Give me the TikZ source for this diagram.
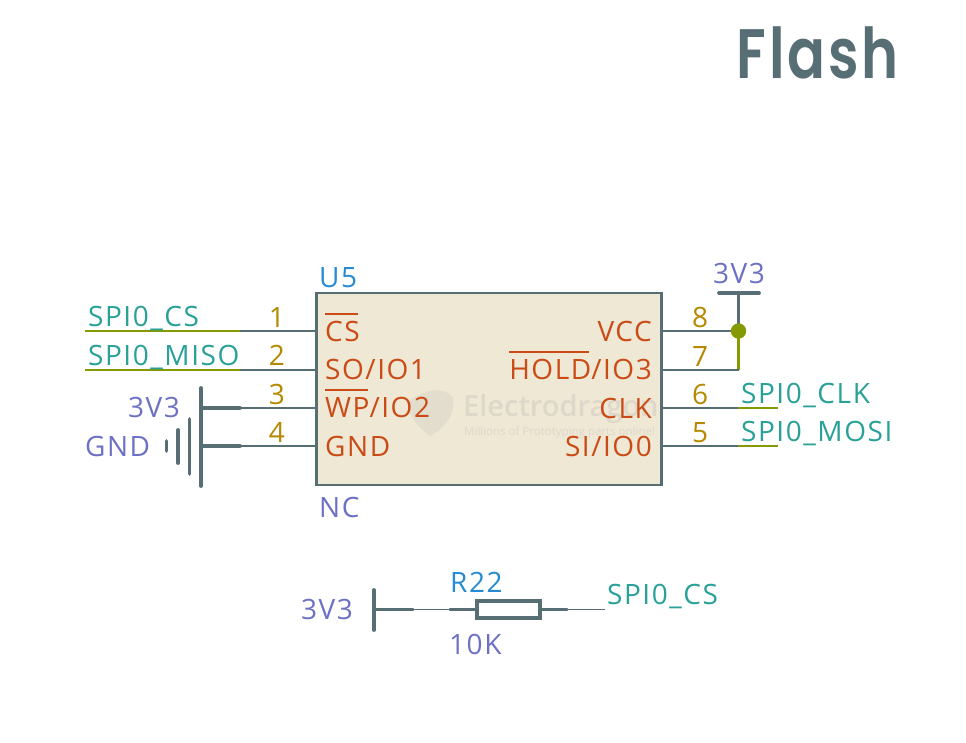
\documentclass[tikz,border=0pt]{standalone}
\usepackage{fontspec}
\setmainfont{Open Sans}
\newfontfamily\labelfont{Open Sans}[LetterSpace=5.5]
\newfontfamily\titlefont{Poppins}[UprightFont=* SemiBold,LetterSpace=4,FakeStretch=0.8]
\newfontfamily\markfont{Open Sans}[UprightFont=* Semibold]
\definecolor{slateline}{RGB}{88,110,117}
\definecolor{wiregreen}{RGB}{133,153,0}
\definecolor{nettext}{RGB}{42,161,152}
\definecolor{pinnum}{RGB}{181,137,0}
\definecolor{pinname}{RGB}{203,75,22}
\definecolor{reftext}{RGB}{38,139,210}
\definecolor{valtext}{RGB}{108,113,196}
\definecolor{chipfill}{RGB}{238,232,213}
\definecolor{markgray}{RGB}{221,216,202}
\newcommand{\barred}[1]{\setbox0\hbox{#1}\rlap{\rule[26pt]{\dimexpr\wd0-2pt\relax}{1.8pt}}\box0}
\usetikzlibrary{positioning}

\begin{document}
\begin{tikzpicture}[
      x=1pt, y=-1pt,
      font=\labelfont\fontsize{28}{30}\selectfont,
      chip/.style={rectangle, draw=slateline, line width=2.4pt, fill=chipfill, minimum width=345pt, minimum height=192pt, inner sep=0pt},
      net/.style={anchor=base west, text=nettext, inner sep=0pt},
      num/.style={anchor=base, text=pinnum, inner sep=0pt},
      namel/.style={anchor=base west, text=pinname, inner sep=0pt},
      namer/.style={anchor=base east, text=pinname, inner sep=0pt},
      ref/.style={anchor=base west, text=reftext, inner sep=0pt},
      val/.style={anchor=base west, text=valtext, inner sep=0pt},
      pin/.style={slateline, line width=1.8pt},
      stub/.style={slateline, line width=3.6pt, line cap=round},
      bar/.style={slateline, line width=3.8pt, line cap=round},
      wire/.style={wiregreen, line width=2.4pt},
      resbox/.style={rectangle, draw=slateline, line width=3.4pt, fill=white, minimum width=63pt, minimum height=17pt, inner sep=0pt},
    ]
    \useasboundingbox (0,0) rectangle (966,742);

    \node[anchor=base east, inner sep=0pt, text=slateline, font=\titlefont\fontsize{70}{72}\selectfont] (title) at (899,78) {Flash};

    \node[chip] (u5) at (489,389) {};

    % watermark
    \fill[markgray!70!chipfill] (430,436) .. controls (415,425) and (408,412) .. (408,402) .. controls (425,388) and (445,386) .. (453,398) .. controls (456,412) and (446,428) .. (430,436) -- cycle;
    \node[anchor=base west, inner sep=0pt, text=markgray, font=\markfont\fontsize{29}{30}\selectfont] (mark) at (463,416) {Electrodragon};
    \node[anchor=base west, inner sep=0pt, text=markgray, font=\fontsize{11.5}{12}\selectfont] (marksub) at (464,435) {Millions of Prototyping parts online!};

    \node[ref] (u5ref) at (319,287) {U5};
    \node[val] (u5val) at (319,517) {NC};

    % left side
    \coordinate (p1) at (240,331);
    \coordinate (p2) at (240,370);
    \coordinate (p3) at (240,408);
    \coordinate (p4) at (240,446);
    \coordinate (w1) at (85,331);
    \coordinate (w2) at (85,370);
    \coordinate (s3) at (201,408);
    \coordinate (s4) at (201,446);
    \draw[pin] (p1) -- (p1 -| u5.west);
    \draw[pin] (p2) -- (p2 -| u5.west);
    \draw[pin] (p3) -- (p3 -| u5.west);
    \draw[pin] (p4) -- (p4 -| u5.west);
    \draw[wire] (w1) -- (p1);
    \draw[wire] (w2) -- (p2);
    \draw[stub] (s3) -- (p3);
    \draw[stub] (s4) -- (p4);
    \coordinate (lbt) at (201,388);
    \coordinate (lbb) at (201,486);
    \draw[bar] (lbt) -- (lbb);
    \coordinate (g1t) at (189.5,419);
    \coordinate (g1b) at (189.5,474);
    \coordinate (g2t) at (178,430);
    \coordinate (g2b) at (178,463);
    \coordinate (g3t) at (166.5,441);
    \coordinate (g3b) at (166.5,451);
    \draw[bar] (g1t) -- (g1b);
    \draw[bar] (g2t) -- (g2b);
    \draw[bar] (g3t) -- (g3b);

    \node[net] (netcs) at (88,326) {SPI0\_CS};
    \node[net] (netmiso) at (88,365) {SPI0\_MISO};
    \node[val] (v3l) at (128,417) {3V3};
    \node[val] (gndl) at (85,456) {GND};
    \node[num] (n1) at (277,327) {1};
    \node[num] (n2) at (277,365) {2};
    \node[num] (n3) at (277,404) {3};
    \node[num] (n4) at (277,442.5) {4};
    \node[namel] (cs) at (325,341) {\barred{CS}};
    \node[namel] (so) at (325,379) {SO/IO1};
    \node[namel] (wp) at (325,417) {\barred{WP}/IO2};
    \node[namel] (gnd) at (325,456) {GND};

    % right side
    \coordinate (p8) at (738.5,331);
    \coordinate (p7) at (738.5,370);
    \coordinate (p6) at (738,408);
    \coordinate (p5) at (738,446);
    \coordinate (w6) at (778,408);
    \coordinate (w5) at (778,446);
    \coordinate (top) at (738.5,293);
    \coordinate (tbl) at (719,293);
    \coordinate (tbr) at (759,293);
    \draw[wire] (p8) -- (p7);
    \draw[pin] (u5.east |- p8) -- (p8);
    \draw[pin] (u5.east |- p7) -- (p7);
    \draw[pin] (u5.east |- p6) -- (p6);
    \draw[pin] (u5.east |- p5) -- (p5);
    \draw[wire] (p6) -- (w6);
    \draw[wire] (p5) -- (w5);
    \draw[stub, line cap=butt] (top) -- (p8);
    \draw[bar] (tbl) -- (tbr);
    \fill[wiregreen] (p8) circle (7.7);

    \node[val] (v3r) at (713,283) {3V3};
    \node[net] (netclk) at (741,403) {SPI0\_CLK};
    \node[net] (netmosi) at (741,441) {SPI0\_MOSI};
    \node[num] (n8) at (700,327) {8};
    \node[num] (n7) at (700,366) {7};
    \node[num] (n6) at (700,404) {6};
    \node[num] (n5) at (700,442) {5};
    \node[namer] (vcc) at (652,341) {VCC};
    \node[namer] (hold) at (652,379) {\barred{HOLD}/IO3};
    \node[namer] (clk) at (652,418) {CLK};
    \node[namer] (si) at (652,456) {SI/IO0};

    % pull-up
    \node[resbox] (r22) at (508.5,609.5) {};
    \coordinate (rb) at (374,609.5);
    \coordinate (rbt) at (374,590);
    \coordinate (rbb) at (374,630);
    \coordinate (rs1) at (413,609.5);
    \coordinate (rs2) at (450,609.5);
    \coordinate (rs3) at (567,609.5);
    \coordinate (rs4) at (605,609.5);
    \draw[bar] (rbt) -- (rbb);
    \draw[pin] (rs1) -- (rs2);
    \draw[pin] (rs3) -- (rs4);
    \draw[stub] (rb) -- (rs1);
    \draw[stub] (rs2) -- (r22.west);
    \draw[stub] (r22.east) -- (rs3);

    \node[val] (v3b) at (301,619) {3V3};
    \node[ref] (r22ref) at (450,592) {R22};
    \node[val] (r22val) at (449,654) {10K};
    \node[net] (netcsb) at (607,604) {SPI0\_CS};
  \end{tikzpicture}
\end{document}
